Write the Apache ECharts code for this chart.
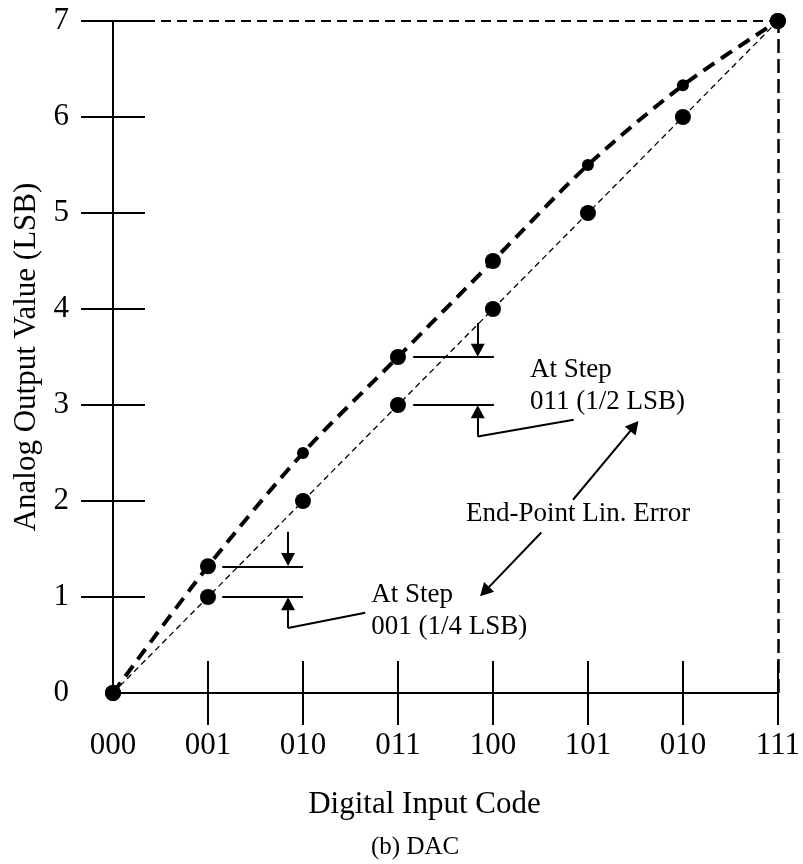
<!DOCTYPE html>
<html>
<head>
<meta charset="utf-8">
<script src="https://cdn.jsdelivr.net/npm/echarts@6/dist/echarts.min.js"></script>
<style>
  html, body { margin: 0; padding: 0; background: #fff; }
  #chart { width: 803px; height: 864px; }
</style>
</head>
<body>
<div id="chart"></div>
<script>
// x axis codes (the 7th label reads "010" in the original figure)
const CODES = ['000', '001', '010', '011', '100', '101', '010', '111'];
const STEPS = [0, 1, 2, 3, 4, 5, 6, 7];
const IDEAL = [0, 1, 2, 3, 4, 5, 6, 7];
const ACTUAL = [0, 1.32, 2.5, 3.5, 4.5, 5.5, 6.33, 7];
const TICKS = [1, 2, 3, 4, 5, 6, 7];

// annotation geometry, in data units
const NOTE_SEGMENTS = [
  [[1.15, 1.32], [2.0, 1.32]],
  [[1.15, 1.0], [2.0, 1.0]],
  [[1.843, 0.678], [2.655, 0.837]],
  [[3.16, 3.5], [4.01, 3.5]],
  [[3.16, 3.0], [4.01, 3.0]],
  [[3.84, 2.673], [4.85, 2.847]]
];
const NOTE_ARROWS = [
  [[1.843, 1.68], [1.843, 1.39]],
  [[1.843, 0.678], [1.843, 0.93]],
  [[3.84, 3.855], [3.84, 3.57]],
  [[3.84, 2.673], [3.84, 2.93]],
  [[4.843, 2.013], [5.489, 2.781]],
  [[4.509, 1.672], [3.912, 1.056]]
];
const NOTE_TEXTS = [
  [2.718, 1.19, 'At Step\n001 (1/4 LSB)'],
  [4.39, 3.53, 'At Step\n011 (1/2 LSB)'],
  [3.717, 2.035, 'End-Point Lin. Error']
];

const FONT = 'Liberation Serif';
const BLACK = '#000';
const SMALL_DOTS = [2, 5, 6];

function pairs(ys) {
  return STEPS.map((x, i) => [x, ys[i]]);
}

function baseAxis(extra) {
  return Object.assign({
    type: 'value',
    min: 0,
    max: 7,
    interval: 1,
    splitLine: { show: false },
    axisLine: { show: true, onZero: false, lineStyle: { color: BLACK, width: 2 } },
    axisTick: { show: true, customValues: TICKS, length: 32, lineStyle: { color: BLACK, width: 2 } }
  }, extra);
}

const segmentLines = NOTE_SEGMENTS.map(s => [
  { coord: s[0], symbol: 'none' },
  { coord: s[1], symbol: 'none' }
]);
const arrowLines = NOTE_ARROWS.map(s => [
  { coord: s[0], symbol: 'none' },
  { coord: s[1], symbol: 'triangle', symbolSize: [14, 13] }
]);

const chart = echarts.init(document.getElementById('chart'));

chart.setOption({
  animation: false,
  backgroundColor: '#fff',
  textStyle: { fontFamily: FONT, color: BLACK },
  title: {
    text: '(b) DAC',
    left: 371,
    top: 835,
    padding: 0,
    textStyle: { fontFamily: FONT, fontSize: 25, fontWeight: 'normal', color: BLACK }
  },
  grid: { left: 113, top: 21, width: 669.5, height: 672 },
  xAxis: [
    baseAxis({
      position: 'bottom',
      name: 'Digital Input Code',
      nameLocation: 'middle',
      nameGap: 96,
      nameTextStyle: { fontFamily: FONT, fontSize: 31, color: BLACK, padding: [0, 42, 0, 0] },
      axisLabel: {
        margin: 37,
        fontFamily: FONT,
        fontSize: 31,
        color: BLACK,
        formatter: v => CODES[v]
      }
    }),
    baseAxis({
      position: 'bottom',
      axisLine: { show: false },
      axisLabel: { show: false },
      axisTick: { show: true, inside: true, customValues: TICKS, length: 32, lineStyle: { color: BLACK, width: 2 } }
    })
  ],
  yAxis: [
    baseAxis({
      position: 'left',
      name: 'Analog Output Value (LSB)',
      nameLocation: 'middle',
      nameGap: 62,
      nameTextStyle: { fontFamily: FONT, fontSize: 31, color: BLACK },
      axisLabel: { margin: 44, fontFamily: FONT, fontSize: 31, color: BLACK }
    }),
    baseAxis({
      position: 'left',
      axisLine: { show: false },
      axisLabel: { show: false },
      axisTick: { show: true, inside: true, customValues: TICKS, length: 32, lineStyle: { color: BLACK, width: 2 } }
    })
  ],
  series: [
    {
      name: 'Ideal',
      type: 'line',
      data: pairs(IDEAL),
      symbol: 'circle',
      symbolSize: 16,
      showAllSymbol: true,
      itemStyle: { color: BLACK },
      lineStyle: { color: BLACK, width: 1.3, type: [6, 4] },
      markLine: {
        silent: true,
        symbol: 'none',
        label: { show: false },
        data: [
          { yAxis: 7, lineStyle: { color: BLACK, width: 2, type: [10, 6] } },
          { xAxis: 7, lineStyle: { color: BLACK, width: 2.5, type: [14, 6] } }
        ]
      },
      z: 3
    },
    {
      name: 'Actual',
      type: 'line',
      data: pairs(ACTUAL),
      smooth: 0.3,
      symbol: 'circle',
      symbolSize: (v, p) => SMALL_DOTS.indexOf(p.dataIndex) >= 0 ? 12 : 16,
      showAllSymbol: true,
      itemStyle: { color: BLACK },
      lineStyle: { color: BLACK, width: 4, type: [13, 8] },
      z: 4
    },
    {
      name: 'Notes',
      type: 'scatter',
      data: NOTE_TEXTS,
      symbolSize: 0,
      // scatter fades items (and their labels) to 0.8 by default
      itemStyle: { color: BLACK, opacity: 1 },
      label: {
        show: true,
        position: [0, 0],
        align: 'left',
        verticalAlign: 'top',
        fontFamily: FONT,
        fontSize: 27,
        lineHeight: 32,
        color: BLACK,
        opacity: 1,
        textBorderWidth: 0,
        formatter: p => p.data[2]
      },
      markLine: {
        silent: true,
        symbol: 'none',
        label: { show: false },
        lineStyle: { color: BLACK, width: 2, type: 'solid' },
        data: segmentLines.concat(arrowLines)
      },
      z: 5
    }
  ]
});
</script>
</body>
</html>
